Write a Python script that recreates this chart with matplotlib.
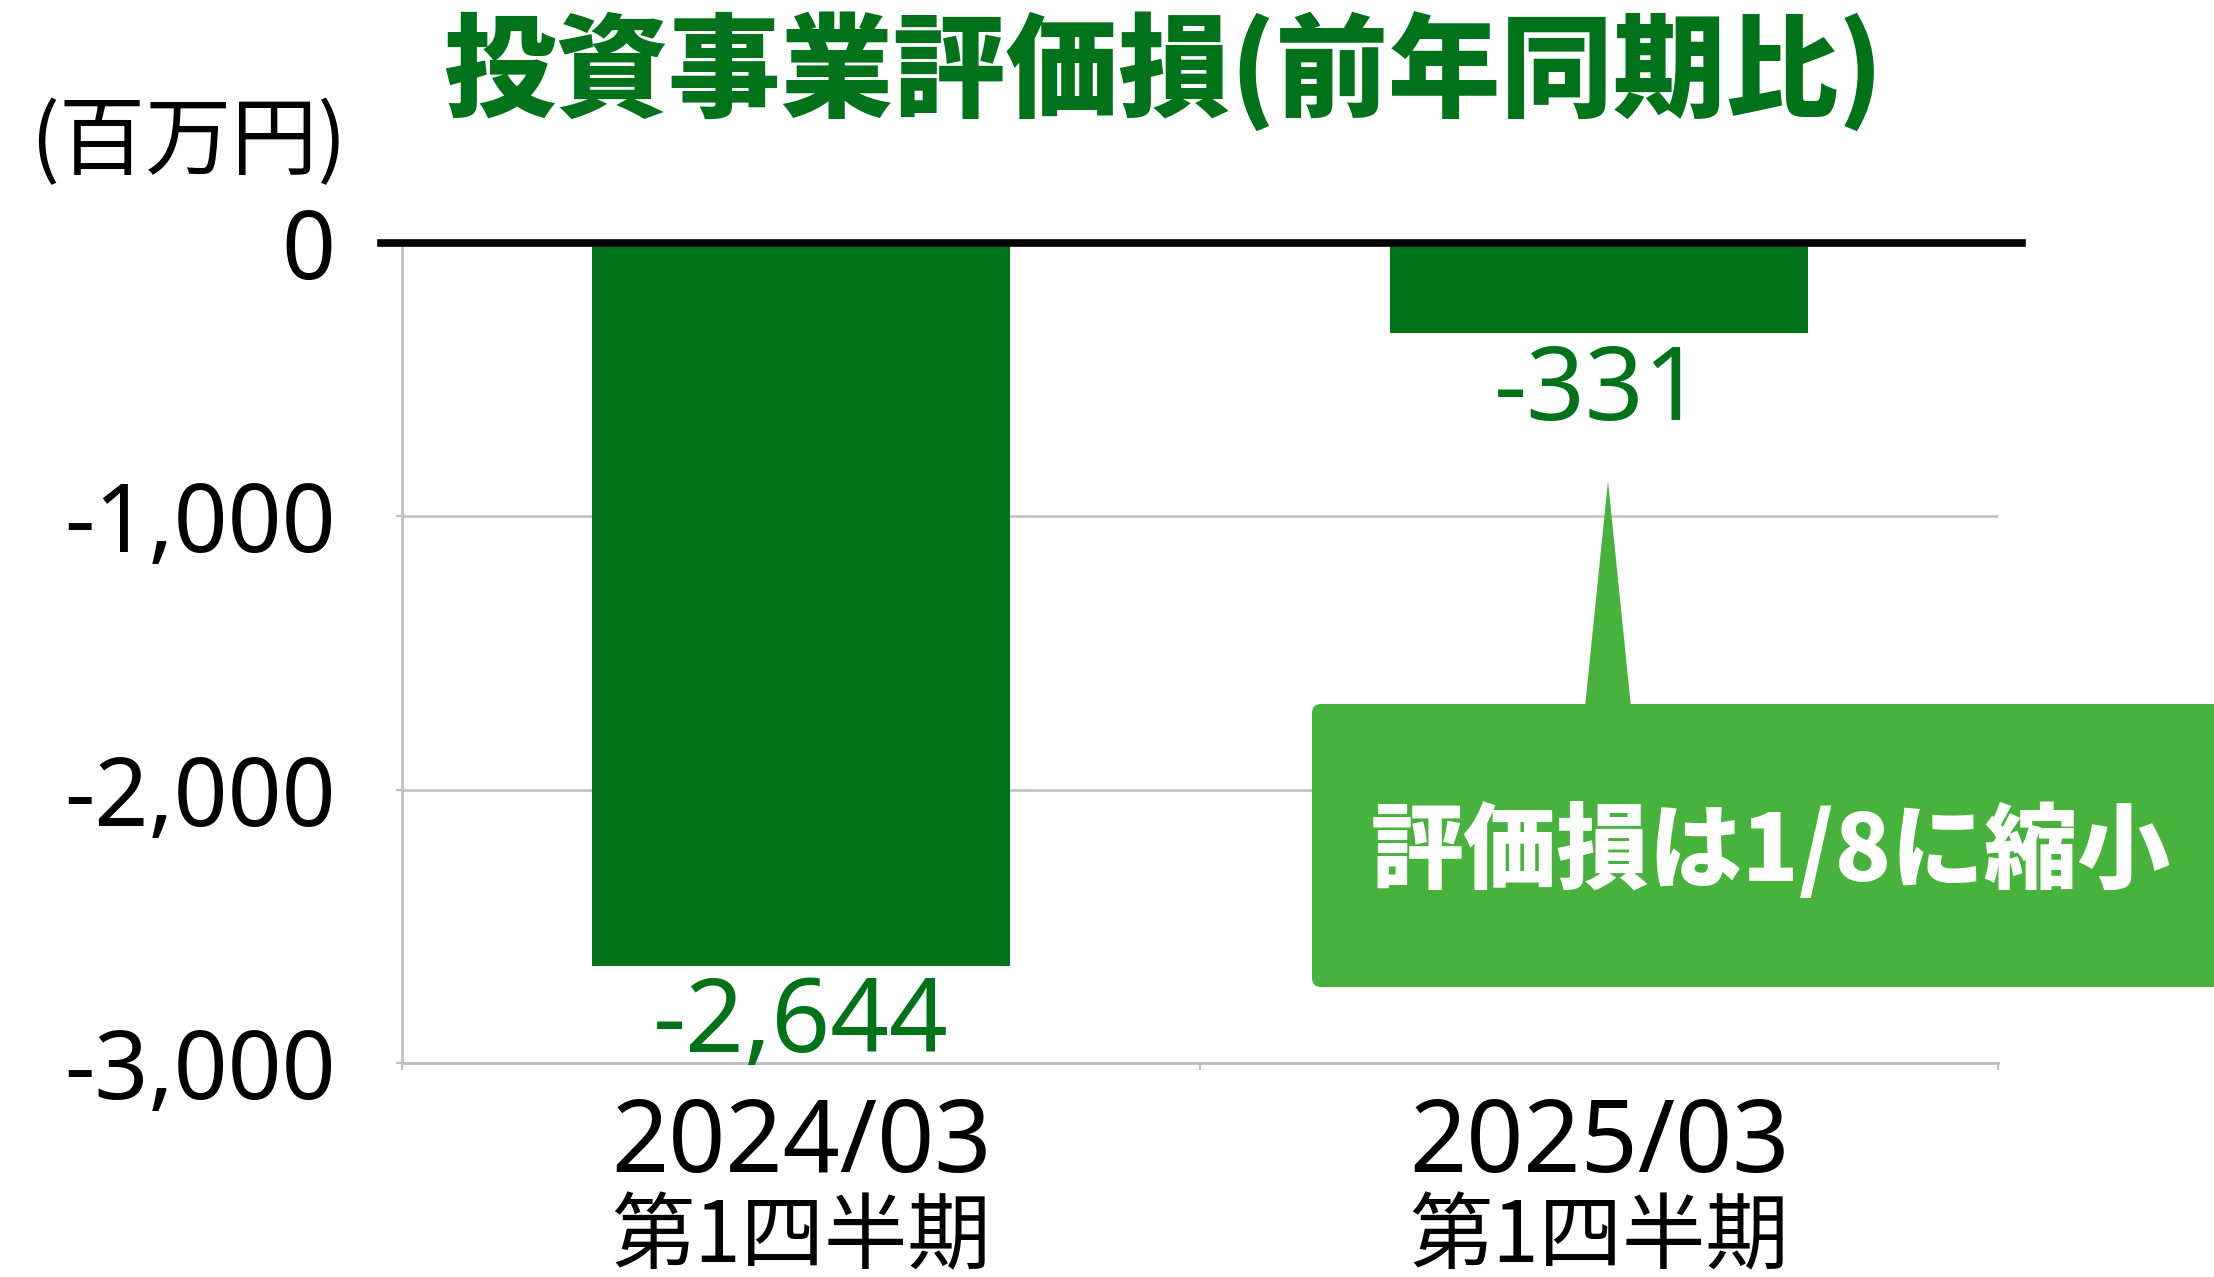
import matplotlib
matplotlib.use("Agg")
import matplotlib.pyplot as plt
from matplotlib.patches import FancyBboxPatch, Polygon
from matplotlib.transforms import blended_transform_factory

plt.rcParams["font.family"] = ["Noto Sans CJK JP", "DejaVu Sans"]
NUM_FONT = ["Noto Sans", "Noto Sans CJK JP"]

# data
periods = ["2024/03", "2025/03"]
quarter = ["第1四半期", "第1四半期"]
values = [-2644, -331]
yticks = [0, -1000, -2000, -3000]

title = "投資事業評価損(前年同期比)"
unit = "(百万円)"
callout = "評価損は1/8に縮小"

DARK = "#00731a"
LIGHT = "#47b33c"
GRID = "#bfbfbf"

fig = plt.figure(figsize=(22.14, 12.77), dpi=100)
ax = fig.add_axes([0.1817, 0.1676, 0.7207, 0.6421])

xs = range(len(values))
ax.bar(xs, values, width=0.524, color=DARK, zorder=2)
ax.set_xlim(-0.5, 1.5)
ax.set_ylim(-3000, 0)

ax.set_yticks(yticks)
ax.set_yticklabels([f"{v:,}" for v in yticks], fontsize=68, family=NUM_FONT)
ax.set_xticks(list(xs))
ax.set_xticklabels(periods, fontsize=72, family=NUM_FONT)
ax.set_xticks([-0.5, 0.5, 1.5], minor=True)
ax.tick_params(axis="x", which="major", length=0, pad=23)
ax.tick_params(axis="x", which="minor", length=5, width=1.5, color=GRID)
ax.tick_params(axis="y", length=4, width=1.5, color=GRID, pad=44)

# second line of the category labels
trans = blended_transform_factory(ax.transData, ax.transAxes)
for i, q in zip(xs, quarter):
    ax.text(i, -0.213, q, transform=trans, ha="center", va="center",
            fontsize=60)

ax.yaxis.grid(True, color=GRID, lw=1.8, zorder=0)
ax.set_axisbelow(True)
for s in ("top", "right"):
    ax.spines[s].set_visible(False)
for s in ("left", "bottom"):
    ax.spines[s].set_color(GRID)
    ax.spines[s].set_linewidth(2)

# thick zero line, a bit wider than the plot area
ax.plot([-0.527, 1.53], [0, 0], color="black", lw=5.5, clip_on=False, zorder=4)

for i, v in zip(xs, values):
    ax.annotate(f"{v:,}", (i, v), xytext=(0, -6), textcoords="offset points",
                ha="center", va="top", fontsize=74, color=DARK, family=NUM_FONT)

# callout box with pointer
box = FancyBboxPatch((13.12, 2.90), 9.6, 2.83,
                     boxstyle="round,pad=0,rounding_size=0.09",
                     transform=fig.dpi_scale_trans, fc=LIGHT, ec="none")
tri = Polygon([(15.85, 5.70), (16.08, 7.96), (16.31, 5.70)], closed=True,
              transform=fig.dpi_scale_trans, fc=LIGHT, ec="none")
fig.add_artist(tri)
fig.add_artist(box)
fig.text(0.800, 0.3328, callout, ha="center", va="center", fontsize=67,
         fontweight="heavy", color="white")

fig.text(0.5253, 0.9436, title, ha="center", va="center", fontsize=81,
         fontweight="black", color=DARK)
fig.text(0.0849, 0.8872, unit, ha="center", va="center", fontsize=62)

fig.savefig("out.png", dpi=100)
